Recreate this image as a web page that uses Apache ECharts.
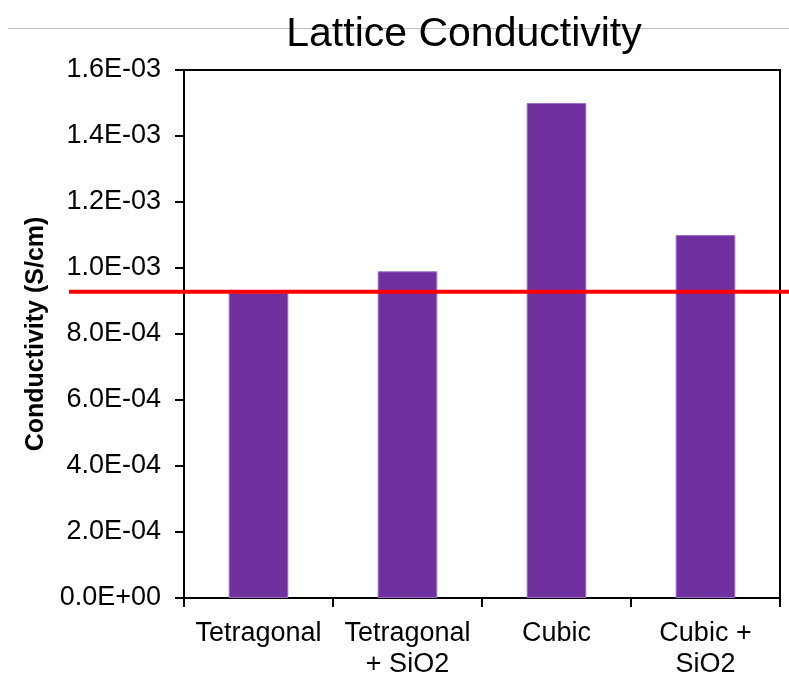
<!DOCTYPE html>
<html>
<head>
<meta charset="utf-8">
<script src="https://cdn.jsdelivr.net/npm/echarts@6/dist/echarts.min.js"></script>
<style>html,body{margin:0;padding:0;background:#fff}#c{width:789px;height:687px}</style>
</head>
<body>
<div id="c"></div>
<script>
const categories = ['Tetragonal', 'Tetragonal\n+ SiO2', 'Cubic', 'Cubic +\nSiO2'];
const conductivity = [9.25e-4, 9.9e-4, 1.5e-3, 1.1e-3];
const referenceLevel = 9.28e-4;
const yTicks = { min: 0, max: 1.6e-3, interval: 2e-4 };

function fmt(v) {
  if (v === 0) return '0.0E+00';
  const e = Math.floor(Math.log10(Math.abs(v)) + 1e-9);
  const m = v / Math.pow(10, e);
  const sign = e < 0 ? '-' : '+';
  const ae = Math.abs(e);
  return m.toFixed(1) + 'E' + sign + (ae < 10 ? '0' + ae : ae);
}

const chart = echarts.init(document.getElementById('c'), null, { renderer: 'canvas' });
const font = 'Liberation Sans, Arial, sans-serif';
chart.setOption({
  animation: false,
  backgroundColor: '#ffffff',
  title: {
    text: 'Lattice Conductivity',
    left: 459, textAlign: 'center', top: 9,
    textStyle: { fontFamily: font, fontSize: 41, fontWeight: 'normal', color: '#000' }
  },
  graphic: [{
    type: 'line', shape: { x1: 8, y1: 28.5, x2: 789, y2: 28.5 },
    style: { stroke: '#c0c0c0', lineWidth: 1 }, z: -1
  }],
  grid: [
    { left: 184, right: 9, top: 70, bottom: 89, show: true, borderColor: '#000', borderWidth: 2, backgroundColor: 'transparent' },
    { left: 69, right: 0, top: 70, bottom: 89 }
  ],
  xAxis: [
    {
      type: 'category', data: categories, gridIndex: 0,
      axisLine: { lineStyle: { color: '#000', width: 2 } },
      axisTick: { show: true, length: 9, lineStyle: { color: '#000', width: 2 } },
      axisLabel: { fontFamily: font, fontSize: 27, color: '#000', margin: 20, lineHeight: 31, interval: 0 },
      splitLine: { show: false }
    },
    { type: 'value', gridIndex: 1, min: 0, max: 1, show: false }
  ],
  yAxis: [
    {
      type: 'value', gridIndex: 0, min: yTicks.min, max: yTicks.max, interval: yTicks.interval,
      name: 'Conductivity (S/cm)', nameLocation: 'middle', nameRotate: 90, nameGap: 132,
      nameTextStyle: { fontFamily: font, fontSize: 25, fontWeight: 'bold', color: '#000' },
      axisLine: { show: true, lineStyle: { color: '#000', width: 2 } },
      axisTick: { show: true, length: 9, lineStyle: { color: '#000', width: 2 } },
      axisLabel: { fontFamily: font, fontSize: 27, color: '#000', margin: 23, formatter: fmt },
      splitLine: { show: false }
    },
    { type: 'value', gridIndex: 1, min: yTicks.min, max: yTicks.max, show: false }
  ],
  series: [
    {
      type: 'bar', data: conductivity, xAxisIndex: 0, yAxisIndex: 0,
      barWidth: '40%',
      itemStyle: { color: '#7030A0', borderColor: '#9c6fc4', borderWidth: 1 }
    },
    {
      type: 'line', xAxisIndex: 1, yAxisIndex: 1,
      data: [[0, referenceLevel], [1, referenceLevel]],
      symbol: 'none', lineStyle: { color: '#FF0000', width: 4 }, z: 5
    }
  ]
});
</script>
</body>
</html>
